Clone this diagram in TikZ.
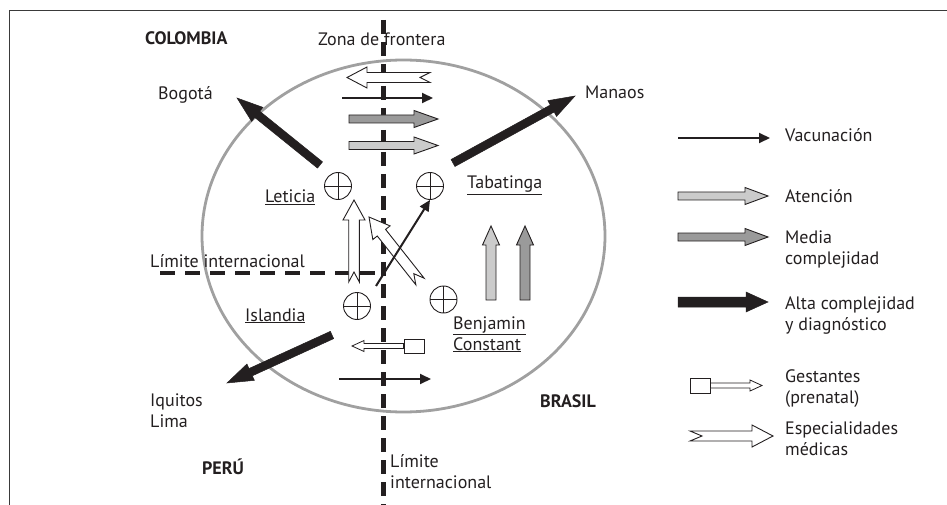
\documentclass[tikz,border=0pt]{standalone}
\usepackage{fontspec}
\setmainfont{PT Sans}
\usetikzlibrary{arrows.meta,calc}
\definecolor{ink}{HTML}{231F20}
\definecolor{ringgray}{HTML}{A0A0A0}
\definecolor{lightfill}{HTML}{CBCBCB}
\definecolor{darkfill}{HTML}{9A9A9A}
\definecolor{framegray}{HTML}{3A3A3A}
\newcommand\twol[2]{\vtop{\baselineskip=21pt\hbox{#1}\hbox{#2}}}
% #1 style, #2 from, #3 to, #4 shaft half width, #5 head half width, #6 head length, #7 tail notch
\newcommand\blockarr[7]{%
  \path let \p1=(#2), \p2=(#3) in \pgfextra{%
    \pgfmathsetmacro\BAtmpa{atan2(\y2-\y1,\x2-\x1)}%
    \pgfmathsetmacro\BAtmpl{veclen(\x2-\x1,\y2-\y1)}%
    \global\let\BAang\BAtmpa
    \global\let\BAlen\BAtmpl};
  \draw[#1, shift={(#2)}, rotate=\BAang]
    (0pt,#4pt) -- (#7pt,0pt) -- (0pt,-#4pt)
    -- ({\BAlen pt-#6pt},-#4pt) -- ({\BAlen pt-#6pt},-#5pt)
    -- ({\BAlen pt},0pt) -- ({\BAlen pt-#6pt},#5pt)
    -- ({\BAlen pt-#6pt},#4pt) -- cycle;
}
\begin{document}
\begin{tikzpicture}[x=1pt,y=-1pt,
  lbl/.style={anchor=base west, inner sep=0pt, font=\fontsize{18}{21}\selectfont, text=ink},
  blbl/.style={lbl, font=\fontsize{18}{21}\selectfont\bfseries},
  vacarr/.style={draw=ink, line width=2pt, -{Triangle[length=11pt,width=10pt]}},
  especarr/.style={draw=ink, line width=0.9pt, fill=white, line join=miter},
  ltarr/.style={draw=ink, line width=0.9pt, fill=lightfill},
  dkarr/.style={draw=ink, line width=0.9pt, fill=darkfill},
  altaarr/.style={draw=ink, fill=ink, line width=0.5pt},
  gestarr/.style={draw=ink, line width=0.8pt, fill=white},
  gbox/.style={draw=ink, line width=0.9pt, fill=white, minimum width=20pt, minimum height=14pt, inner sep=0pt},
  ccross/.style={circle, draw=ink, line width=0.9pt, minimum size=27pt, inner sep=0pt,
    path picture={\draw[ink, line width=0.7pt] (path picture bounding box.north) -- (path picture bounding box.south)
      (path picture bounding box.west) -- (path picture bounding box.east);}},
  borderline/.style={draw=ink, line width=5pt, dash pattern=on 14pt off 8pt},
  hborderline/.style={draw=ink, line width=4.5pt, dash pattern=on 15pt off 10pt}
]
\useasboundingbox (0,0) rectangle (947,505);
% frame
\draw[framegray, line width=1pt] (9,505) -- (9,11) -- (947,11);
% zone ellipse
\draw[ringgray, line width=2.8pt] (403.5,236) ellipse [x radius=201.5pt, y radius=176pt];
% international borders
\coordinate (vtop) at (383,20);
\coordinate (vbot) at (383,505);
\coordinate (hleft) at (160,273);
\coordinate (hright) at (383,273);
\draw[borderline] (vtop) -- (vbot);
\draw[hborderline] (hleft) -- (hright);

% health posts
\node[ccross] (let) at (338,186) {};
\node[ccross] (tab) at (430,186) {};
\node[ccross] (isl) at (357,306) {};
\node[ccross] (ben) at (443.5,299.5) {};

% labels
\node[blbl] (col) at (145,45) {COLOMBIA};
\node[lbl] (zona) at (318,46) {Zona de frontera};
\node[lbl] (bog) at (158,100) {Bogotá};
\node[lbl] (man) at (585,99) {Manaos};
\node[lbl] (letl) at (265,203) {\underline{Leticia}};
\node[lbl] (tabl) at (467,189) {\underline{Tabatinga}};
\node[lbl] (limh) at (150,267) {Límite internacional};
\node[lbl] (isll) at (245,321) {\underline{Islandia}};
\node[lbl] (benl) at (453,329) {\twol{\underline{Benjamin}}{\underline{Constant}}};
\node[lbl] (iql) at (150,406) {\twol{Iquitos}{Lima}};
\node[blbl] (per) at (202,474) {PERÚ};
\node[blbl] (bra) at (540,407) {BRASIL};
\node[lbl] (limv) at (390,467) {\twol{Límite}{internacional}};

% city arrows (alta complejidad)
\coordinate (bgA) at (320,165); \coordinate (bgB) at (237,98);
\coordinate (mnA) at (453,163); \coordinate (mnB) at (575,96);
\coordinate (iqA) at (332,335); \coordinate (iqB) at (227,383);
\blockarr{altaarr}{bgA}{bgB}{4}{9}{26}{0}
\blockarr{altaarr}{mnA}{mnB}{4}{9}{26}{0}
\blockarr{altaarr}{iqA}{iqB}{4}{9}{26}{0}

% top flows
\coordinate (esA) at (430,77.5); \coordinate (esB) at (347,77.5);
\blockarr{especarr}{esA}{esB}{5}{10.5}{20}{10}
\coordinate (vaA) at (342,98); \coordinate (vaB) at (433,98);
\draw[vacarr] (vaA) -- (vaB);
\coordinate (mdA) at (349,119); \coordinate (mdB) at (438,119);
\blockarr{dkarr}{mdA}{mdB}{4}{8.5}{24}{0}
\coordinate (atA) at (349,145.5); \coordinate (atB) at (438,145.5);
\blockarr{ltarr}{atA}{atB}{4}{8.5}{24}{0}

% middle flows
\coordinate (euA) at (354,282); \coordinate (euB) at (354,200);
\blockarr{especarr}{euA}{euB}{5.3}{11}{20}{10}
\coordinate (edA) at (420,281.5); \coordinate (edB) at (369,217);
\blockarr{especarr}{edA}{edB}{5.3}{11}{20}{10}
\coordinate (vdA) at (376,286);
\draw[vacarr] (vdA) -- (tab.south);
\coordinate (ulA) at (491,300); \coordinate (ulB) at (491,226);
\blockarr{ltarr}{ulA}{ulB}{5}{8.5}{19}{0}
\coordinate (udA) at (525,300); \coordinate (udB) at (525,226);
\blockarr{dkarr}{udA}{udB}{5}{8.5}{19}{0}

% bottom flows
\node[gbox] (gb1) at (414,346) {};
\coordinate (gsB) at (352,346);
\blockarr{gestarr}{gb1.west}{gsB}{2.5}{5.5}{12}{0}
\coordinate (vbA) at (339,379); \coordinate (vbB) at (431,379);
\draw[vacarr] (vbA) -- (vbB);

% legend
\coordinate (lvA) at (678,138); \coordinate (lvB) at (770,138);
\draw[vacarr] (lvA) -- (lvB);
\node[lbl] (lv) at (785,142) {Vacunación};
\coordinate (laA) at (678,196); \coordinate (laB) at (768,196);
\blockarr{ltarr}{laA}{laB}{4}{8.5}{23}{0}
\node[lbl] (la) at (785,202) {Atención};
\coordinate (lmA) at (678,237); \coordinate (lmB) at (768,237);
\blockarr{dkarr}{lmA}{lmB}{4}{8.5}{23}{0}
\node[lbl] (lm) at (785,243) {\twol{Media}{complejidad}};
\coordinate (lhA) at (678,302); \coordinate (lhB) at (768,302);
\blockarr{altaarr}{lhA}{lhB}{5}{10}{22}{0}
\node[lbl] (lh) at (785,309) {\twol{Alta complejidad}{y diagnóstico}};
\node[gbox, minimum height=15pt] (gb2) at (700,385.5) {};
\coordinate (lgB) at (762,385.5);
\blockarr{gestarr}{gb2.east}{lgB}{2.5}{5.5}{12}{0}
\node[lbl] (lg) at (785,382) {\twol{Gestantes}{(prenatal)}};
\coordinate (leA) at (690,436); \coordinate (leB) at (773,436);
\blockarr{especarr}{leA}{leB}{5}{11}{21}{12}
\node[lbl] (le) at (785,434) {\twol{Especialidades}{médicas}};
\end{tikzpicture}
\end{document}
